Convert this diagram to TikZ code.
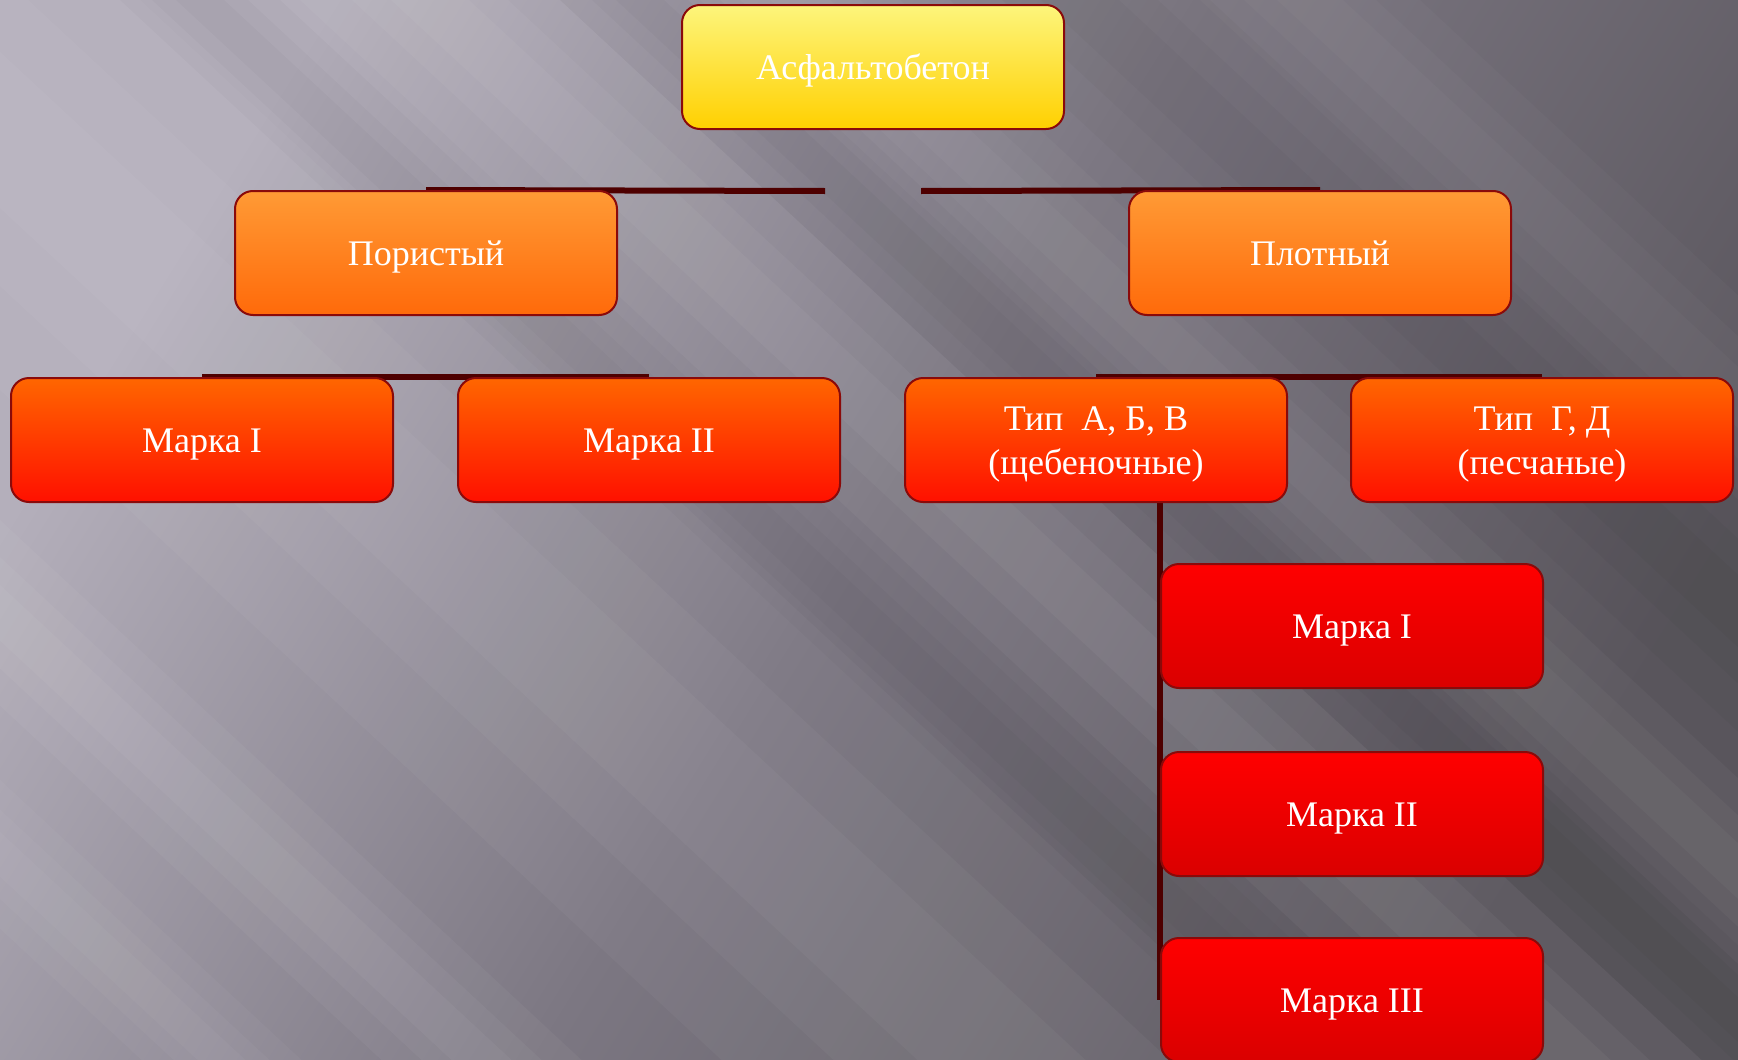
\documentclass[tikz,border=0pt]{standalone}
\usepackage{fontspec}
\setmainfont{Liberation Serif}
\definecolor{bgLight}{HTML}{B4AFBB}
\definecolor{bgMid}{HTML}{7C7782}
\definecolor{bgDark}{HTML}{59555C}
\definecolor{boxBorder}{HTML}{8A0A0A}
\definecolor{lineCol}{HTML}{4E0000}
\definecolor{yTop}{HTML}{FDF57C}
\definecolor{yBot}{HTML}{FFD000}
\definecolor{oTop}{HTML}{FF9A35}
\definecolor{oBot}{HTML}{FF6A0A}
\definecolor{rTop}{HTML}{FF6600}
\definecolor{rBot}{HTML}{FF1000}
\definecolor{dTop}{HTML}{FF0000}
\definecolor{dBot}{HTML}{DA0000}
\newcommand\boxstrut{\rule[-7.8pt]{0pt}{39.8pt}}
\pgfdeclarelayer{bglayer}
\pgfdeclarelayer{linklayer}
\pgfsetlayers{bglayer,linklayer,main}
\tikzset{
  chartbox/.style={draw=boxBorder, line width=2pt, rounded corners=18pt,
    minimum width=382pt, minimum height=124pt, inner sep=0pt,
    text=white, align=center, font=\fontsize{36}{44}\selectfont},
  yellowbox/.style={chartbox, top color=yTop, bottom color=yBot},
  orangebox/.style={chartbox, top color=oTop, bottom color=oBot},
  redbox/.style={chartbox, top color=rTop, bottom color=rBot},
  deepbox/.style={chartbox, top color=dTop, bottom color=dBot},
  link/.style={draw=lineCol, line width=6pt},
  beam/.style={fill=white, opacity=#1},
  shadowband/.style={fill=black, opacity=#1}
}
\newcommand\lightband[3]{\fill[#3] (#1,0) -- (#1+#2,0) -- (#1+#2+1400,1300) -- (#1+1400,1300) -- cycle;}
\newcommand\softband[3]{%
  \lightband{#1}{#2}{#3}%
  \lightband{#1+#2*0.2}{#2*0.6}{#3}%
  \lightband{#1+#2*0.35}{#2*0.3}{#3}}
\begin{document}
\begin{tikzpicture}[x=1pt,y=-1pt]
\useasboundingbox (0,0) rectangle (1738,1060);
% nodes
\node[yellowbox] (top) at (873,67) {\boxstrut Асфальтобетон};
\node[orangebox] (por) at (426,253) {\boxstrut Пористый};
\node[orangebox] (plo) at (1320,253) {\boxstrut Плотный};
\node[redbox] (pm1) at (202,440) {\boxstrut Марка I};
\node[redbox] (pm2) at (649,440) {\boxstrut Марка II};
\node[redbox] (tabv) at (1096,440) {\boxstrut Тип\ \ А, Б, В\\\boxstrut(щебеночные)};
\node[redbox] (tgd) at (1542,440) {\boxstrut Тип\ \ Г, Д\\\boxstrut(песчаные)};
\node[deepbox] (c1) at (1352,626) {\boxstrut Марка I};
\node[deepbox] (c2) at (1352,814) {\boxstrut Марка II};
\node[deepbox] (c3) at (1352,1000) {\boxstrut Марка III};
\coordinate (gl) at (825,191);
\coordinate (gr) at (921,191);
% connectors
\begin{pgfonlayer}{linklayer}
\draw[link] (por.north) -- (gl);
\draw[link] (gr) -- (plo.north);
\draw[link] (pm1.north) -- (pm2.north);
\draw[link] (tabv.north) -- (tgd.north);
\draw[link] (tabv.south -| c1.west) -- (c3.west);
\end{pgfonlayer}
% background
\begin{pgfonlayer}{bglayer}
\shade[left color=bgLight, right color=bgDark, middle color=bgMid, shading angle=58] (0,0) rectangle (1738,1060);
\begin{scope}
\clip (0,0) rectangle (1738,1060);
\softband{-420}{560}{beam=0.035}
\softband{300}{260}{beam=0.04}
\softband{-760}{200}{beam=0.04}
\softband{-1000}{160}{beam=0.03}
\softband{700}{200}{beam=0.03}
\softband{1200}{220}{beam=0.025}
\softband{120}{160}{shadowband=0.02}
\softband{560}{160}{shadowband=0.025}
\softband{950}{260}{shadowband=0.025}
\end{scope}
\end{pgfonlayer}
\end{tikzpicture}
\end{document}
